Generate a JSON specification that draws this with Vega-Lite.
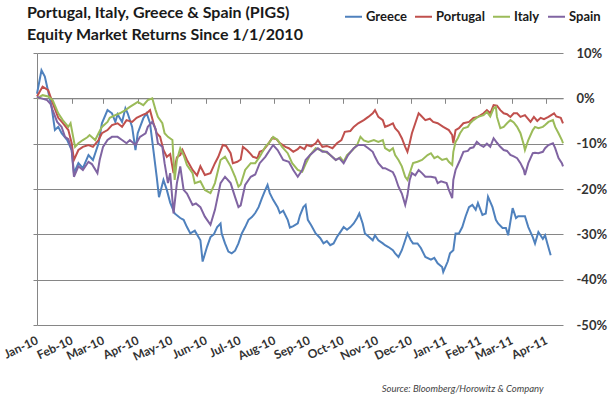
{
"$schema": "https://vega.github.io/schema/vega-lite/v6.json",
"width": 526, "height": 272,
"autosize": {"type": "none"},
"padding": {"left": 37, "top": 53, "right": 47, "bottom": 70},
"background": "white",
"config": {"view": {"stroke": null}, "font": "Lato"},
"title": {"text": ["Portugal, Italy, Greece & Spain (PIGS)", "Equity Market Returns Since 1/1/2010"], "anchor": "start", "frame": "group", "dx": -10, "dy": 44, "fontSize": 16, "font": "Lato", "fontWeight": "bold", "color": "#1a1a1a", "lineHeight": 22, "offset": 8},
"data": {"values": [
{"d":"2010-01-01","s":"Greece","v":1.0},{"d":"2010-01-05","s":"Greece","v":6.2},{"d":"2010-01-08","s":"Greece","v":4.8},{"d":"2010-01-11","s":"Greece","v":1.5},{"d":"2010-01-14","s":"Greece","v":-1.8},{"d":"2010-01-17","s":"Greece","v":-7.0},{"d":"2010-01-20","s":"Greece","v":-6.3},{"d":"2010-01-23","s":"Greece","v":-7.7},{"d":"2010-01-28","s":"Greece","v":-9.2},{"d":"2010-02-01","s":"Greece","v":-11.4},{"d":"2010-02-03","s":"Greece","v":-16.5},{"d":"2010-02-07","s":"Greece","v":-14.3},{"d":"2010-02-11","s":"Greece","v":-15.4},{"d":"2010-02-16","s":"Greece","v":-12.5},{"d":"2010-02-20","s":"Greece","v":-13.6},{"d":"2010-02-25","s":"Greece","v":-9.9},{"d":"2010-02-28","s":"Greece","v":-5.5},{"d":"2010-03-05","s":"Greece","v":-2.6},{"d":"2010-03-09","s":"Greece","v":-3.3},{"d":"2010-03-12","s":"Greece","v":-5.2},{"d":"2010-03-14","s":"Greece","v":-3.5},{"d":"2010-03-18","s":"Greece","v":-5.2},{"d":"2010-03-21","s":"Greece","v":-2.2},{"d":"2010-03-23","s":"Greece","v":-3.3},{"d":"2010-03-27","s":"Greece","v":-6.3},{"d":"2010-03-30","s":"Greece","v":-11.4},{"d":"2010-04-01","s":"Greece","v":-7.7},{"d":"2010-04-06","s":"Greece","v":-4.4},{"d":"2010-04-09","s":"Greece","v":-3.3},{"d":"2010-04-12","s":"Greece","v":-5.5},{"d":"2010-04-15","s":"Greece","v":-11.4},{"d":"2010-04-18","s":"Greece","v":-17.4},{"d":"2010-04-20","s":"Greece","v":-21.8},{"d":"2010-04-24","s":"Greece","v":-18.0},{"d":"2010-04-27","s":"Greece","v":-20.2},{"d":"2010-04-30","s":"Greece","v":-23.0},{"d":"2010-05-04","s":"Greece","v":-25.4},{"d":"2010-05-09","s":"Greece","v":-26.4},{"d":"2010-05-12","s":"Greece","v":-26.8},{"d":"2010-05-15","s":"Greece","v":-28.4},{"d":"2010-05-18","s":"Greece","v":-29.8},{"d":"2010-05-22","s":"Greece","v":-29.2},{"d":"2010-05-27","s":"Greece","v":-31.3},{"d":"2010-05-29","s":"Greece","v":-36.0},{"d":"2010-06-02","s":"Greece","v":-32.7},{"d":"2010-06-05","s":"Greece","v":-30.6},{"d":"2010-06-08","s":"Greece","v":-30.0},{"d":"2010-06-11","s":"Greece","v":-28.4},{"d":"2010-06-14","s":"Greece","v":-27.6},{"d":"2010-06-15","s":"Greece","v":-29.8},{"d":"2010-06-18","s":"Greece","v":-32.0},{"d":"2010-06-21","s":"Greece","v":-33.8},{"d":"2010-06-24","s":"Greece","v":-34.2},{"d":"2010-06-27","s":"Greece","v":-33.6},{"d":"2010-06-30","s":"Greece","v":-32.0},{"d":"2010-07-03","s":"Greece","v":-29.8},{"d":"2010-07-06","s":"Greece","v":-28.4},{"d":"2010-07-09","s":"Greece","v":-26.8},{"d":"2010-07-12","s":"Greece","v":-26.2},{"d":"2010-07-15","s":"Greece","v":-25.3},{"d":"2010-07-18","s":"Greece","v":-24.0},{"d":"2010-07-21","s":"Greece","v":-22.0},{"d":"2010-07-24","s":"Greece","v":-20.2},{"d":"2010-07-26","s":"Greece","v":-19.1},{"d":"2010-07-28","s":"Greece","v":-20.9},{"d":"2010-07-31","s":"Greece","v":-22.4},{"d":"2010-08-04","s":"Greece","v":-24.0},{"d":"2010-08-06","s":"Greece","v":-25.3},{"d":"2010-08-09","s":"Greece","v":-24.8},{"d":"2010-08-13","s":"Greece","v":-26.8},{"d":"2010-08-15","s":"Greece","v":-28.5},{"d":"2010-08-18","s":"Greece","v":-28.2},{"d":"2010-08-22","s":"Greece","v":-27.6},{"d":"2010-08-24","s":"Greece","v":-25.8},{"d":"2010-08-27","s":"Greece","v":-24.0},{"d":"2010-08-29","s":"Greece","v":-23.5},{"d":"2010-08-31","s":"Greece","v":-26.8},{"d":"2010-09-03","s":"Greece","v":-28.0},{"d":"2010-09-07","s":"Greece","v":-29.8},{"d":"2010-09-11","s":"Greece","v":-30.8},{"d":"2010-09-14","s":"Greece","v":-32.0},{"d":"2010-09-17","s":"Greece","v":-31.5},{"d":"2010-09-20","s":"Greece","v":-32.4},{"d":"2010-09-23","s":"Greece","v":-32.0},{"d":"2010-09-26","s":"Greece","v":-30.6},{"d":"2010-09-29","s":"Greece","v":-29.5},{"d":"2010-10-02","s":"Greece","v":-28.4},{"d":"2010-10-05","s":"Greece","v":-29.0},{"d":"2010-10-08","s":"Greece","v":-28.4},{"d":"2010-10-11","s":"Greece","v":-27.6},{"d":"2010-10-14","s":"Greece","v":-26.4},{"d":"2010-10-16","s":"Greece","v":-25.4},{"d":"2010-10-19","s":"Greece","v":-27.6},{"d":"2010-10-21","s":"Greece","v":-29.8},{"d":"2010-10-24","s":"Greece","v":-30.4},{"d":"2010-10-28","s":"Greece","v":-31.3},{"d":"2010-10-30","s":"Greece","v":-30.2},{"d":"2010-11-02","s":"Greece","v":-31.3},{"d":"2010-11-06","s":"Greece","v":-32.0},{"d":"2010-11-08","s":"Greece","v":-32.4},{"d":"2010-11-11","s":"Greece","v":-32.8},{"d":"2010-11-15","s":"Greece","v":-33.5},{"d":"2010-11-17","s":"Greece","v":-34.2},{"d":"2010-11-20","s":"Greece","v":-35.0},{"d":"2010-11-23","s":"Greece","v":-33.5},{"d":"2010-11-26","s":"Greece","v":-31.3},{"d":"2010-11-28","s":"Greece","v":-29.8},{"d":"2010-12-01","s":"Greece","v":-31.3},{"d":"2010-12-03","s":"Greece","v":-32.0},{"d":"2010-12-07","s":"Greece","v":-32.0},{"d":"2010-12-10","s":"Greece","v":-33.0},{"d":"2010-12-14","s":"Greece","v":-35.0},{"d":"2010-12-19","s":"Greece","v":-35.6},{"d":"2010-12-22","s":"Greece","v":-35.2},{"d":"2010-12-25","s":"Greece","v":-36.4},{"d":"2010-12-29","s":"Greece","v":-37.2},{"d":"2010-12-30","s":"Greece","v":-38.3},{"d":"2011-01-03","s":"Greece","v":-36.0},{"d":"2011-01-05","s":"Greece","v":-34.2},{"d":"2011-01-08","s":"Greece","v":-33.5},{"d":"2011-01-10","s":"Greece","v":-29.8},{"d":"2011-01-13","s":"Greece","v":-29.8},{"d":"2011-01-16","s":"Greece","v":-28.4},{"d":"2011-01-19","s":"Greece","v":-26.0},{"d":"2011-01-22","s":"Greece","v":-24.0},{"d":"2011-01-25","s":"Greece","v":-23.5},{"d":"2011-01-28","s":"Greece","v":-24.6},{"d":"2011-01-30","s":"Greece","v":-23.1},{"d":"2011-02-03","s":"Greece","v":-25.7},{"d":"2011-02-06","s":"Greece","v":-25.4},{"d":"2011-02-08","s":"Greece","v":-21.7},{"d":"2011-02-12","s":"Greece","v":-24.0},{"d":"2011-02-15","s":"Greece","v":-26.8},{"d":"2011-02-17","s":"Greece","v":-27.6},{"d":"2011-02-21","s":"Greece","v":-28.6},{"d":"2011-02-24","s":"Greece","v":-28.6},{"d":"2011-02-26","s":"Greece","v":-30.2},{"d":"2011-03-02","s":"Greece","v":-24.2},{"d":"2011-03-05","s":"Greece","v":-26.4},{"d":"2011-03-07","s":"Greece","v":-26.0},{"d":"2011-03-11","s":"Greece","v":-26.0},{"d":"2011-03-13","s":"Greece","v":-26.0},{"d":"2011-03-16","s":"Greece","v":-28.4},{"d":"2011-03-20","s":"Greece","v":-30.6},{"d":"2011-03-22","s":"Greece","v":-32.0},{"d":"2011-03-25","s":"Greece","v":-29.5},{"d":"2011-03-29","s":"Greece","v":-31.0},{"d":"2011-03-31","s":"Greece","v":-30.2},{"d":"2011-04-02","s":"Greece","v":-32.0},{"d":"2011-04-05","s":"Greece","v":-34.6},
{"d":"2010-01-01","s":"Portugal","v":0.4},{"d":"2010-01-06","s":"Portugal","v":2.6},{"d":"2010-01-11","s":"Portugal","v":1.8},{"d":"2010-01-15","s":"Portugal","v":-1.0},{"d":"2010-01-20","s":"Portugal","v":-4.3},{"d":"2010-01-24","s":"Portugal","v":-5.4},{"d":"2010-01-29","s":"Portugal","v":-7.0},{"d":"2010-02-01","s":"Portugal","v":-9.9},{"d":"2010-02-03","s":"Portugal","v":-13.6},{"d":"2010-02-07","s":"Portugal","v":-11.4},{"d":"2010-02-11","s":"Portugal","v":-10.7},{"d":"2010-02-16","s":"Portugal","v":-10.3},{"d":"2010-02-20","s":"Portugal","v":-10.7},{"d":"2010-02-25","s":"Portugal","v":-9.2},{"d":"2010-02-28","s":"Portugal","v":-7.7},{"d":"2010-03-05","s":"Portugal","v":-7.0},{"d":"2010-03-09","s":"Portugal","v":-5.9},{"d":"2010-03-14","s":"Portugal","v":-5.5},{"d":"2010-03-18","s":"Portugal","v":-6.3},{"d":"2010-03-22","s":"Portugal","v":-4.8},{"d":"2010-03-27","s":"Portugal","v":-5.2},{"d":"2010-03-31","s":"Portugal","v":-4.3},{"d":"2010-04-05","s":"Portugal","v":-3.7},{"d":"2010-04-09","s":"Portugal","v":-3.3},{"d":"2010-04-12","s":"Portugal","v":-2.6},{"d":"2010-04-15","s":"Portugal","v":-5.4},{"d":"2010-04-18","s":"Portugal","v":-7.7},{"d":"2010-04-21","s":"Portugal","v":-8.5},{"d":"2010-04-24","s":"Portugal","v":-11.4},{"d":"2010-04-27","s":"Portugal","v":-12.9},{"d":"2010-04-30","s":"Portugal","v":-12.3},{"d":"2010-05-03","s":"Portugal","v":-16.5},{"d":"2010-05-06","s":"Portugal","v":-13.0},{"d":"2010-05-09","s":"Portugal","v":-12.5},{"d":"2010-05-11","s":"Portugal","v":-11.4},{"d":"2010-05-15","s":"Portugal","v":-13.6},{"d":"2010-05-20","s":"Portugal","v":-15.8},{"d":"2010-05-24","s":"Portugal","v":-17.0},{"d":"2010-05-27","s":"Portugal","v":-15.0},{"d":"2010-05-31","s":"Portugal","v":-16.9},{"d":"2010-06-05","s":"Portugal","v":-16.5},{"d":"2010-06-09","s":"Portugal","v":-14.3},{"d":"2010-06-12","s":"Portugal","v":-12.9},{"d":"2010-06-16","s":"Portugal","v":-10.3},{"d":"2010-06-19","s":"Portugal","v":-10.5},{"d":"2010-06-23","s":"Portugal","v":-12.1},{"d":"2010-06-25","s":"Portugal","v":-14.3},{"d":"2010-06-29","s":"Portugal","v":-14.0},{"d":"2010-07-02","s":"Portugal","v":-13.5},{"d":"2010-07-04","s":"Portugal","v":-10.7},{"d":"2010-07-08","s":"Portugal","v":-11.5},{"d":"2010-07-11","s":"Portugal","v":-12.3},{"d":"2010-07-13","s":"Portugal","v":-12.9},{"d":"2010-07-17","s":"Portugal","v":-13.2},{"d":"2010-07-19","s":"Portugal","v":-11.8},{"d":"2010-07-22","s":"Portugal","v":-11.5},{"d":"2010-07-26","s":"Portugal","v":-10.3},{"d":"2010-07-30","s":"Portugal","v":-8.8},{"d":"2010-08-03","s":"Portugal","v":-9.0},{"d":"2010-08-06","s":"Portugal","v":-9.9},{"d":"2010-08-11","s":"Portugal","v":-10.7},{"d":"2010-08-14","s":"Portugal","v":-11.0},{"d":"2010-08-18","s":"Portugal","v":-11.8},{"d":"2010-08-22","s":"Portugal","v":-11.2},{"d":"2010-08-24","s":"Portugal","v":-10.7},{"d":"2010-08-28","s":"Portugal","v":-11.2},{"d":"2010-08-30","s":"Portugal","v":-10.3},{"d":"2010-09-03","s":"Portugal","v":-10.6},{"d":"2010-09-07","s":"Portugal","v":-9.9},{"d":"2010-09-09","s":"Portugal","v":-9.2},{"d":"2010-09-13","s":"Portugal","v":-10.7},{"d":"2010-09-17","s":"Portugal","v":-10.5},{"d":"2010-09-22","s":"Portugal","v":-11.0},{"d":"2010-09-26","s":"Portugal","v":-9.9},{"d":"2010-09-30","s":"Portugal","v":-9.2},{"d":"2010-10-03","s":"Portugal","v":-7.4},{"d":"2010-10-08","s":"Portugal","v":-7.2},{"d":"2010-10-11","s":"Portugal","v":-6.3},{"d":"2010-10-15","s":"Portugal","v":-5.5},{"d":"2010-10-20","s":"Portugal","v":-4.8},{"d":"2010-10-24","s":"Portugal","v":-4.1},{"d":"2010-10-28","s":"Portugal","v":-3.3},{"d":"2010-10-30","s":"Portugal","v":-2.6},{"d":"2010-11-02","s":"Portugal","v":-4.1},{"d":"2010-11-06","s":"Portugal","v":-4.8},{"d":"2010-11-08","s":"Portugal","v":-6.3},{"d":"2010-11-11","s":"Portugal","v":-6.0},{"d":"2010-11-15","s":"Portugal","v":-5.5},{"d":"2010-11-17","s":"Portugal","v":-6.6},{"d":"2010-11-20","s":"Portugal","v":-7.4},{"d":"2010-11-23","s":"Portugal","v":-8.8},{"d":"2010-11-26","s":"Portugal","v":-10.7},{"d":"2010-11-28","s":"Portugal","v":-11.8},{"d":"2010-11-30","s":"Portugal","v":-9.9},{"d":"2010-12-02","s":"Portugal","v":-7.7},{"d":"2010-12-05","s":"Portugal","v":-5.5},{"d":"2010-12-08","s":"Portugal","v":-3.3},{"d":"2010-12-10","s":"Portugal","v":-3.8},{"d":"2010-12-14","s":"Portugal","v":-4.8},{"d":"2010-12-18","s":"Portugal","v":-4.5},{"d":"2010-12-21","s":"Portugal","v":-5.2},{"d":"2010-12-25","s":"Portugal","v":-5.5},{"d":"2010-12-30","s":"Portugal","v":-6.3},{"d":"2011-01-04","s":"Portugal","v":-7.0},{"d":"2011-01-07","s":"Portugal","v":-8.1},{"d":"2011-01-08","s":"Portugal","v":-9.9},{"d":"2011-01-10","s":"Portugal","v":-7.0},{"d":"2011-01-13","s":"Portugal","v":-6.6},{"d":"2011-01-17","s":"Portugal","v":-5.5},{"d":"2011-01-22","s":"Portugal","v":-5.2},{"d":"2011-01-26","s":"Portugal","v":-4.3},{"d":"2011-01-30","s":"Portugal","v":-4.1},{"d":"2011-02-04","s":"Portugal","v":-3.3},{"d":"2011-02-07","s":"Portugal","v":-2.6},{"d":"2011-02-10","s":"Portugal","v":-3.3},{"d":"2011-02-13","s":"Portugal","v":-1.5},{"d":"2011-02-16","s":"Portugal","v":-1.6},{"d":"2011-02-19","s":"Portugal","v":-2.6},{"d":"2011-02-22","s":"Portugal","v":-3.3},{"d":"2011-02-25","s":"Portugal","v":-3.5},{"d":"2011-02-28","s":"Portugal","v":-4.1},{"d":"2011-03-03","s":"Portugal","v":-3.3},{"d":"2011-03-06","s":"Portugal","v":-3.3},{"d":"2011-03-09","s":"Portugal","v":-4.1},{"d":"2011-03-13","s":"Portugal","v":-3.7},{"d":"2011-03-15","s":"Portugal","v":-4.3},{"d":"2011-03-18","s":"Portugal","v":-5.2},{"d":"2011-03-21","s":"Portugal","v":-4.1},{"d":"2011-03-24","s":"Portugal","v":-5.0},{"d":"2011-03-27","s":"Portugal","v":-4.3},{"d":"2011-03-30","s":"Portugal","v":-4.6},{"d":"2011-04-03","s":"Portugal","v":-4.1},{"d":"2011-04-08","s":"Portugal","v":-3.3},{"d":"2011-04-10","s":"Portugal","v":-4.0},{"d":"2011-04-14","s":"Portugal","v":-4.3},{"d":"2011-04-16","s":"Portugal","v":-5.5},
{"d":"2010-01-01","s":"Italy","v":0.0},{"d":"2010-01-06","s":"Italy","v":0.7},{"d":"2010-01-11","s":"Italy","v":0.4},{"d":"2010-01-15","s":"Italy","v":-0.4},{"d":"2010-01-20","s":"Italy","v":-3.3},{"d":"2010-01-24","s":"Italy","v":-4.8},{"d":"2010-01-29","s":"Italy","v":-6.3},{"d":"2010-01-31","s":"Italy","v":-5.5},{"d":"2010-02-04","s":"Italy","v":-10.7},{"d":"2010-02-07","s":"Italy","v":-9.9},{"d":"2010-02-11","s":"Italy","v":-9.2},{"d":"2010-02-15","s":"Italy","v":-8.6},{"d":"2010-02-17","s":"Italy","v":-8.1},{"d":"2010-02-22","s":"Italy","v":-9.2},{"d":"2010-02-25","s":"Italy","v":-7.7},{"d":"2010-02-28","s":"Italy","v":-6.3},{"d":"2010-03-05","s":"Italy","v":-5.2},{"d":"2010-03-07","s":"Italy","v":-4.3},{"d":"2010-03-12","s":"Italy","v":-3.7},{"d":"2010-03-16","s":"Italy","v":-3.3},{"d":"2010-03-21","s":"Italy","v":-2.6},{"d":"2010-03-25","s":"Italy","v":-1.9},{"d":"2010-03-30","s":"Italy","v":-1.1},{"d":"2010-04-01","s":"Italy","v":-0.8},{"d":"2010-04-06","s":"Italy","v":-1.5},{"d":"2010-04-10","s":"Italy","v":-0.4},{"d":"2010-04-14","s":"Italy","v":0.0},{"d":"2010-04-17","s":"Italy","v":-2.6},{"d":"2010-04-19","s":"Italy","v":-4.1},{"d":"2010-04-23","s":"Italy","v":-5.5},{"d":"2010-04-25","s":"Italy","v":-7.7},{"d":"2010-04-28","s":"Italy","v":-8.5},{"d":"2010-05-02","s":"Italy","v":-9.2},{"d":"2010-05-04","s":"Italy","v":-18.0},{"d":"2010-05-06","s":"Italy","v":-13.6},{"d":"2010-05-09","s":"Italy","v":-11.0},{"d":"2010-05-12","s":"Italy","v":-12.5},{"d":"2010-05-15","s":"Italy","v":-14.7},{"d":"2010-05-20","s":"Italy","v":-16.5},{"d":"2010-05-22","s":"Italy","v":-18.7},{"d":"2010-05-27","s":"Italy","v":-18.3},{"d":"2010-05-31","s":"Italy","v":-20.2},{"d":"2010-06-05","s":"Italy","v":-20.9},{"d":"2010-06-09","s":"Italy","v":-18.7},{"d":"2010-06-14","s":"Italy","v":-13.6},{"d":"2010-06-18","s":"Italy","v":-12.9},{"d":"2010-06-23","s":"Italy","v":-15.0},{"d":"2010-06-27","s":"Italy","v":-17.3},{"d":"2010-06-30","s":"Italy","v":-19.5},{"d":"2010-07-02","s":"Italy","v":-19.0},{"d":"2010-07-06","s":"Italy","v":-15.8},{"d":"2010-07-11","s":"Italy","v":-14.3},{"d":"2010-07-15","s":"Italy","v":-14.3},{"d":"2010-07-19","s":"Italy","v":-12.9},{"d":"2010-07-24","s":"Italy","v":-10.7},{"d":"2010-07-28","s":"Italy","v":-9.6},{"d":"2010-07-31","s":"Italy","v":-8.5},{"d":"2010-08-04","s":"Italy","v":-9.2},{"d":"2010-08-08","s":"Italy","v":-10.7},{"d":"2010-08-13","s":"Italy","v":-12.1},{"d":"2010-08-17","s":"Italy","v":-14.3},{"d":"2010-08-22","s":"Italy","v":-15.8},{"d":"2010-08-26","s":"Italy","v":-16.2},{"d":"2010-08-29","s":"Italy","v":-14.5},{"d":"2010-09-02","s":"Italy","v":-12.5},{"d":"2010-09-07","s":"Italy","v":-11.0},{"d":"2010-09-11","s":"Italy","v":-11.4},{"d":"2010-09-16","s":"Italy","v":-11.8},{"d":"2010-09-20","s":"Italy","v":-12.5},{"d":"2010-09-25","s":"Italy","v":-13.6},{"d":"2010-09-29","s":"Italy","v":-13.0},{"d":"2010-10-02","s":"Italy","v":-14.0},{"d":"2010-10-05","s":"Italy","v":-12.5},{"d":"2010-10-10","s":"Italy","v":-11.4},{"d":"2010-10-14","s":"Italy","v":-10.3},{"d":"2010-10-17","s":"Italy","v":-8.5},{"d":"2010-10-20","s":"Italy","v":-9.3},{"d":"2010-10-24","s":"Italy","v":-9.6},{"d":"2010-10-29","s":"Italy","v":-9.2},{"d":"2010-11-02","s":"Italy","v":-9.6},{"d":"2010-11-06","s":"Italy","v":-9.2},{"d":"2010-11-08","s":"Italy","v":-11.0},{"d":"2010-11-12","s":"Italy","v":-11.6},{"d":"2010-11-15","s":"Italy","v":-11.0},{"d":"2010-11-17","s":"Italy","v":-12.5},{"d":"2010-11-20","s":"Italy","v":-13.6},{"d":"2010-11-23","s":"Italy","v":-15.0},{"d":"2010-11-26","s":"Italy","v":-17.3},{"d":"2010-11-28","s":"Italy","v":-18.0},{"d":"2010-12-01","s":"Italy","v":-15.8},{"d":"2010-12-03","s":"Italy","v":-14.3},{"d":"2010-12-07","s":"Italy","v":-14.0},{"d":"2010-12-11","s":"Italy","v":-13.6},{"d":"2010-12-16","s":"Italy","v":-12.5},{"d":"2010-12-19","s":"Italy","v":-12.1},{"d":"2010-12-22","s":"Italy","v":-13.2},{"d":"2010-12-25","s":"Italy","v":-12.8},{"d":"2010-12-29","s":"Italy","v":-13.6},{"d":"2011-01-02","s":"Italy","v":-13.3},{"d":"2011-01-04","s":"Italy","v":-14.0},{"d":"2011-01-07","s":"Italy","v":-14.7},{"d":"2011-01-08","s":"Italy","v":-11.8},{"d":"2011-01-10","s":"Italy","v":-9.6},{"d":"2011-01-12","s":"Italy","v":-8.8},{"d":"2011-01-14","s":"Italy","v":-7.7},{"d":"2011-01-17","s":"Italy","v":-6.6},{"d":"2011-01-21","s":"Italy","v":-6.3},{"d":"2011-01-23","s":"Italy","v":-5.5},{"d":"2011-01-26","s":"Italy","v":-4.8},{"d":"2011-01-30","s":"Italy","v":-4.1},{"d":"2011-02-04","s":"Italy","v":-3.7},{"d":"2011-02-07","s":"Italy","v":-3.0},{"d":"2011-02-10","s":"Italy","v":-4.0},{"d":"2011-02-13","s":"Italy","v":-2.2},{"d":"2011-02-15","s":"Italy","v":-1.9},{"d":"2011-02-16","s":"Italy","v":-4.1},{"d":"2011-02-19","s":"Italy","v":-6.6},{"d":"2011-02-22","s":"Italy","v":-6.3},{"d":"2011-02-25","s":"Italy","v":-5.5},{"d":"2011-02-28","s":"Italy","v":-4.8},{"d":"2011-03-03","s":"Italy","v":-5.3},{"d":"2011-03-06","s":"Italy","v":-6.3},{"d":"2011-03-09","s":"Italy","v":-7.7},{"d":"2011-03-12","s":"Italy","v":-10.3},{"d":"2011-03-13","s":"Italy","v":-11.4},{"d":"2011-03-16","s":"Italy","v":-9.2},{"d":"2011-03-20","s":"Italy","v":-7.0},{"d":"2011-03-22","s":"Italy","v":-6.3},{"d":"2011-03-25","s":"Italy","v":-6.6},{"d":"2011-03-29","s":"Italy","v":-6.3},{"d":"2011-03-31","s":"Italy","v":-5.9},{"d":"2011-04-03","s":"Italy","v":-5.2},{"d":"2011-04-07","s":"Italy","v":-4.8},{"d":"2011-04-09","s":"Italy","v":-6.3},{"d":"2011-04-12","s":"Italy","v":-7.7},{"d":"2011-04-15","s":"Italy","v":-9.2},{"d":"2011-04-16","s":"Italy","v":-9.9},
{"d":"2010-01-01","s":"Spain","v":0.3},{"d":"2010-01-05","s":"Spain","v":0.0},{"d":"2010-01-10","s":"Spain","v":-0.4},{"d":"2010-01-13","s":"Spain","v":-1.2},{"d":"2010-01-15","s":"Spain","v":-2.6},{"d":"2010-01-19","s":"Spain","v":-5.2},{"d":"2010-01-23","s":"Spain","v":-6.3},{"d":"2010-01-26","s":"Spain","v":-8.5},{"d":"2010-01-29","s":"Spain","v":-9.0},{"d":"2010-02-01","s":"Spain","v":-11.4},{"d":"2010-02-03","s":"Spain","v":-17.3},{"d":"2010-02-07","s":"Spain","v":-15.0},{"d":"2010-02-11","s":"Spain","v":-15.8},{"d":"2010-02-16","s":"Spain","v":-14.0},{"d":"2010-02-19","s":"Spain","v":-14.5},{"d":"2010-02-24","s":"Spain","v":-16.5},{"d":"2010-02-26","s":"Spain","v":-13.6},{"d":"2010-03-01","s":"Spain","v":-10.7},{"d":"2010-03-05","s":"Spain","v":-9.2},{"d":"2010-03-09","s":"Spain","v":-8.5},{"d":"2010-03-14","s":"Spain","v":-8.5},{"d":"2010-03-18","s":"Spain","v":-9.2},{"d":"2010-03-22","s":"Spain","v":-9.9},{"d":"2010-03-25","s":"Spain","v":-9.2},{"d":"2010-03-30","s":"Spain","v":-10.3},{"d":"2010-04-03","s":"Spain","v":-8.5},{"d":"2010-04-08","s":"Spain","v":-7.7},{"d":"2010-04-10","s":"Spain","v":-6.3},{"d":"2010-04-14","s":"Spain","v":-5.2},{"d":"2010-04-17","s":"Spain","v":-6.8},{"d":"2010-04-19","s":"Spain","v":-9.9},{"d":"2010-04-23","s":"Spain","v":-10.7},{"d":"2010-04-25","s":"Spain","v":-14.3},{"d":"2010-04-28","s":"Spain","v":-18.7},{"d":"2010-04-30","s":"Spain","v":-16.5},{"d":"2010-05-03","s":"Spain","v":-25.4},{"d":"2010-05-06","s":"Spain","v":-18.7},{"d":"2010-05-09","s":"Spain","v":-15.0},{"d":"2010-05-12","s":"Spain","v":-20.2},{"d":"2010-05-15","s":"Spain","v":-21.0},{"d":"2010-05-20","s":"Spain","v":-23.5},{"d":"2010-05-23","s":"Spain","v":-23.2},{"d":"2010-05-27","s":"Spain","v":-24.0},{"d":"2010-05-31","s":"Spain","v":-26.1},{"d":"2010-06-05","s":"Spain","v":-27.9},{"d":"2010-06-09","s":"Spain","v":-24.6},{"d":"2010-06-14","s":"Spain","v":-18.7},{"d":"2010-06-18","s":"Spain","v":-17.3},{"d":"2010-06-23","s":"Spain","v":-18.7},{"d":"2010-06-27","s":"Spain","v":-21.8},{"d":"2010-06-30","s":"Spain","v":-24.0},{"d":"2010-07-02","s":"Spain","v":-23.6},{"d":"2010-07-06","s":"Spain","v":-19.1},{"d":"2010-07-11","s":"Spain","v":-17.3},{"d":"2010-07-15","s":"Spain","v":-16.8},{"d":"2010-07-19","s":"Spain","v":-14.3},{"d":"2010-07-24","s":"Spain","v":-12.9},{"d":"2010-07-28","s":"Spain","v":-11.4},{"d":"2010-07-31","s":"Spain","v":-10.3},{"d":"2010-08-04","s":"Spain","v":-11.4},{"d":"2010-08-09","s":"Spain","v":-13.6},{"d":"2010-08-14","s":"Spain","v":-14.0},{"d":"2010-08-18","s":"Spain","v":-15.8},{"d":"2010-08-22","s":"Spain","v":-17.3},{"d":"2010-08-26","s":"Spain","v":-15.8},{"d":"2010-08-29","s":"Spain","v":-13.6},{"d":"2010-09-02","s":"Spain","v":-12.5},{"d":"2010-09-07","s":"Spain","v":-11.4},{"d":"2010-09-09","s":"Spain","v":-11.0},{"d":"2010-09-13","s":"Spain","v":-11.8},{"d":"2010-09-17","s":"Spain","v":-11.8},{"d":"2010-09-20","s":"Spain","v":-12.5},{"d":"2010-09-25","s":"Spain","v":-13.6},{"d":"2010-09-28","s":"Spain","v":-13.2},{"d":"2010-10-02","s":"Spain","v":-14.3},{"d":"2010-10-06","s":"Spain","v":-12.5},{"d":"2010-10-11","s":"Spain","v":-11.0},{"d":"2010-10-15","s":"Spain","v":-10.3},{"d":"2010-10-20","s":"Spain","v":-10.3},{"d":"2010-10-24","s":"Spain","v":-11.0},{"d":"2010-10-28","s":"Spain","v":-11.8},{"d":"2010-10-30","s":"Spain","v":-12.9},{"d":"2010-11-02","s":"Spain","v":-14.3},{"d":"2010-11-06","s":"Spain","v":-15.4},{"d":"2010-11-08","s":"Spain","v":-15.4},{"d":"2010-11-11","s":"Spain","v":-15.8},{"d":"2010-11-15","s":"Spain","v":-16.3},{"d":"2010-11-17","s":"Spain","v":-17.3},{"d":"2010-11-20","s":"Spain","v":-19.5},{"d":"2010-11-23","s":"Spain","v":-21.0},{"d":"2010-11-26","s":"Spain","v":-23.5},{"d":"2010-11-28","s":"Spain","v":-21.4},{"d":"2010-11-30","s":"Spain","v":-18.0},{"d":"2010-12-02","s":"Spain","v":-16.5},{"d":"2010-12-05","s":"Spain","v":-17.0},{"d":"2010-12-08","s":"Spain","v":-15.8},{"d":"2010-12-11","s":"Spain","v":-16.5},{"d":"2010-12-14","s":"Spain","v":-17.3},{"d":"2010-12-19","s":"Spain","v":-17.3},{"d":"2010-12-23","s":"Spain","v":-17.5},{"d":"2010-12-25","s":"Spain","v":-18.7},{"d":"2010-12-28","s":"Spain","v":-18.3},{"d":"2011-01-02","s":"Spain","v":-18.7},{"d":"2011-01-04","s":"Spain","v":-20.2},{"d":"2011-01-07","s":"Spain","v":-22.0},{"d":"2011-01-08","s":"Spain","v":-18.0},{"d":"2011-01-10","s":"Spain","v":-15.8},{"d":"2011-01-12","s":"Spain","v":-14.7},{"d":"2011-01-14","s":"Spain","v":-13.6},{"d":"2011-01-17","s":"Spain","v":-11.8},{"d":"2011-01-21","s":"Spain","v":-11.6},{"d":"2011-01-23","s":"Spain","v":-11.0},{"d":"2011-01-26","s":"Spain","v":-10.8},{"d":"2011-01-29","s":"Spain","v":-9.6},{"d":"2011-02-01","s":"Spain","v":-10.3},{"d":"2011-02-04","s":"Spain","v":-10.7},{"d":"2011-02-07","s":"Spain","v":-10.0},{"d":"2011-02-10","s":"Spain","v":-10.7},{"d":"2011-02-13","s":"Spain","v":-8.8},{"d":"2011-02-16","s":"Spain","v":-9.8},{"d":"2011-02-19","s":"Spain","v":-10.7},{"d":"2011-02-22","s":"Spain","v":-11.4},{"d":"2011-02-25","s":"Spain","v":-11.6},{"d":"2011-02-28","s":"Spain","v":-12.5},{"d":"2011-03-03","s":"Spain","v":-12.8},{"d":"2011-03-06","s":"Spain","v":-13.2},{"d":"2011-03-09","s":"Spain","v":-14.3},{"d":"2011-03-12","s":"Spain","v":-15.8},{"d":"2011-03-13","s":"Spain","v":-16.9},{"d":"2011-03-16","s":"Spain","v":-14.3},{"d":"2011-03-20","s":"Spain","v":-12.1},{"d":"2011-03-22","s":"Spain","v":-12.0},{"d":"2011-03-25","s":"Spain","v":-12.1},{"d":"2011-03-29","s":"Spain","v":-11.8},{"d":"2011-03-31","s":"Spain","v":-11.0},{"d":"2011-04-03","s":"Spain","v":-10.3},{"d":"2011-04-07","s":"Spain","v":-9.9},{"d":"2011-04-09","s":"Spain","v":-11.0},{"d":"2011-04-12","s":"Spain","v":-13.2},{"d":"2011-04-15","s":"Spain","v":-14.3},{"d":"2011-04-16","s":"Spain","v":-15.0}
]},
"layer": [
{"mark": {"type": "rule", "opacity": 0},
 "encoding": {"y": {"field": "v", "type": "quantitative", "scale": {"domain": [-50, 10], "nice": false, "zero": false},
   "axis": {"orient": "left", "values": [-50, -40, -30, -20, -10, 0, 10], "labels": false, "grid": false, "domain": true, "domainColor": "#868686", "domainWidth": 1, "ticks": true, "tickSize": 4, "tickColor": "#868686", "title": null}}}},
{"mark": {"type": "line", "strokeWidth": 2},
 "encoding": {
  "x": {"field": "d", "type": "temporal",
   "scale": {"type": "utc", "domain": [{"year": 2010, "month": 1, "date": 1, "utc": true}, {"year": 2011, "month": 4, "date": 16, "utc": true}]},
   "axis": {"orient": "bottom", "offset": -226.7, "tickCount": {"interval": "month", "step": 1}, "format": "%b-%y", "labelAngle": -25, "labelAlign": "right", "labelBaseline": "middle", "labelPadding": 236, "labelOverlap": false, "labelFlush": false, "labelBound": false, "tickSize": 5, "tickColor": "#868686", "domainColor": "#868686", "grid": false, "labelFont": "Lato", "labelFontWeight": "bold", "labelFontSize": 12, "labelColor": "#333333",
     "title": "Source: Bloomberg/Horowitz  & Company", "titleFont": "Lato", "titleFontStyle": "italic", "titleFontWeight": "normal", "titleFontSize": 9.5, "titleColor": "#444444", "titleAnchor": "end", "titleAlign": "right", "titleBaseline": "middle", "titleX": 506, "titleY": 290}},
  "y": {"field": "v", "type": "quantitative", "scale": {"domain": [-50, 10], "nice": false, "zero": false},
   "axis": {"orient": "right", "values": [-50, -40, -30, -20, -10, 0, 10], "labelExpr": "datum.value + '%'", "domain": false, "ticks": false, "grid": true, "gridColor": "#868686", "gridWidth": 1, "labelPadding": 13, "labelAlign": "left", "labelFont": "Lato", "labelFontWeight": "bold", "labelFontSize": 13, "labelColor": "#333333", "title": null}},
  "color": {"field": "s", "type": "nominal",
   "scale": {"domain": ["Greece", "Portugal", "Italy", "Spain"], "range": ["#4F81BD", "#C0504D", "#9BBB59", "#8064A2"]},
   "legend": {"orient": "none", "legendX": 307, "legendY": -46, "direction": "horizontal", "title": null, "labelFont": "Lato", "labelFontWeight": "bold", "labelFontSize": 13, "labelColor": "#1a1a1a", "symbolType": "stroke", "symbolStrokeWidth": 2, "symbolSize": 289, "columnPadding": 4, "labelOffset": 3}}
 }}
],
"resolve": {"axis": {"y": "independent"}}
}
